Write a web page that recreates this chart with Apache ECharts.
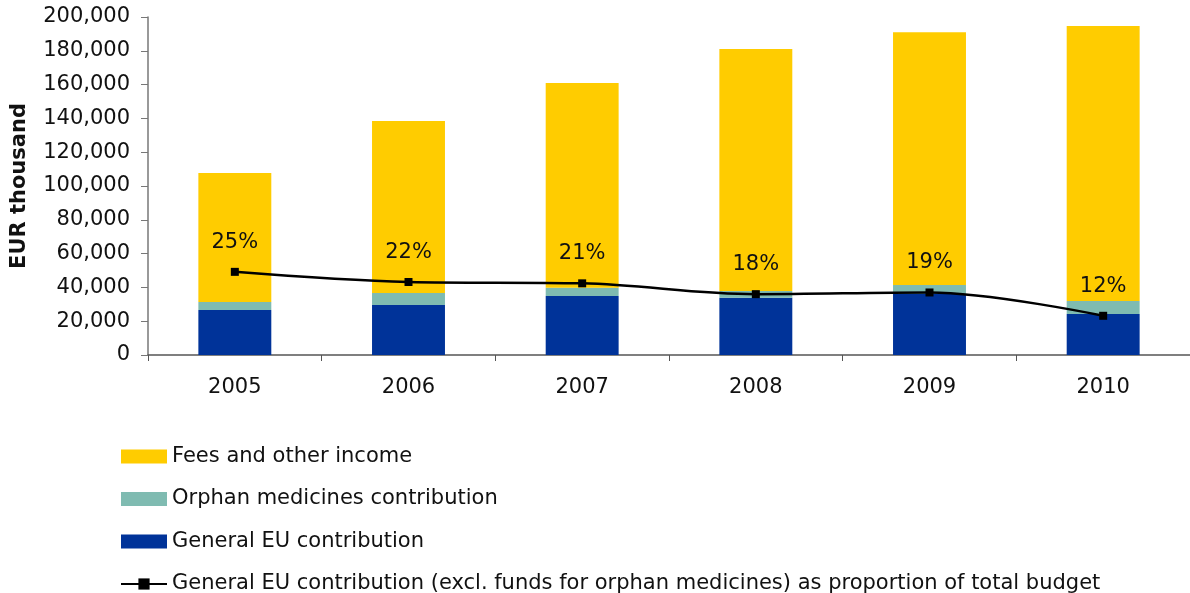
<!DOCTYPE html>
<html>
<head>
<meta charset="utf-8">
<script src="https://cdn.jsdelivr.net/npm/echarts@6/dist/echarts.min.js"></script>
<style>
html,body{margin:0;padding:0;background:#fff;}
#chart{width:1190px;height:593px;}
</style>
</head>
<body>
<div id="chart"></div>
<script>
const years = ['2005', '2006', '2007', '2008', '2009', '2010'];
const generalEU = [26600, 29600, 34900, 33900, 36100, 24300];
const orphan = [4800, 7100, 4900, 4000, 5300, 7700];
const fees = [76300, 101800, 121200, 143100, 149600, 162700];
const proportion = [0.246, 0.216, 0.212, 0.18, 0.185, 0.116];
const yTicks = { min: 0, max: 200000, interval: 20000 };

const FONT = 'DejaVu Sans';
const LINE_NAME = 'General EU contribution (excl. funds for orphan medicines) as proportion of total budget';
const chart = echarts.init(document.getElementById('chart'), null, { renderer: 'canvas' });
chart.setOption({
  animation: false,
  textStyle: { fontFamily: FONT },
  grid: { left: 148, top: 17, width: 1044, bottom: 238, containLabel: false },
  legend: {
    orient: 'vertical',
    left: 120,
    top: 446,
    height: 170,
    padding: 0,
    itemWidth: 46,
    itemHeight: 14,
    itemGap: 21.5,
    textStyle: { fontFamily: FONT, fontSize: 21, lineHeight: 21, color: '#111' },
    data: [
      { name: 'Fees and other income', icon: 'rect' },
      { name: 'Orphan medicines contribution', icon: 'rect' },
      { name: 'General EU contribution', icon: 'rect' },
      { name: LINE_NAME }
    ]
  },
  xAxis: {
    type: 'category',
    data: years,
    axisLine: { lineStyle: { color: '#555', width: 1.5 } },
    axisTick: { show: true, length: 6, lineStyle: { color: '#555' } },
    axisLabel: { fontFamily: FONT, fontSize: 21, color: '#111', margin: 22 },
    splitLine: { show: false }
  },
  yAxis: [{
    type: 'value',
    min: yTicks.min, max: yTicks.max, interval: yTicks.interval,
    name: 'EUR thousand',
    nameLocation: 'middle',
    nameRotate: 90,
    nameGap: 118,
    nameTextStyle: { fontFamily: FONT, fontSize: 21, fontWeight: 'bold', color: '#111' },
    axisLine: { show: true, lineStyle: { color: '#777', width: 1.5 } },
    axisTick: { show: true, length: 7, lineStyle: { color: '#777' } },
    axisLabel: {
      fontFamily: FONT, fontSize: 21, color: '#111', margin: 18,
      formatter: v => v.toLocaleString('en-US')
    },
    splitLine: { show: false }
  }, {
    type: 'value', min: 0, max: 1, show: false,
    axisLine: { show: false }, axisLabel: { show: false }, splitLine: { show: false }
  }],
  series: [
    {
      name: 'General EU contribution', type: 'bar', stack: 'budget',
      data: generalEU, barCategoryGap: '58%', itemStyle: { color: '#003399' }
    },
    {
      name: 'Orphan medicines contribution', type: 'bar', stack: 'budget',
      data: orphan, barCategoryGap: '58%', itemStyle: { color: '#7FBBB1' }
    },
    {
      name: 'Fees and other income', type: 'bar', stack: 'budget',
      data: fees, barCategoryGap: '58%', itemStyle: { color: '#FFCC00' }
    },
    {
      name: LINE_NAME,
      type: 'line', yAxisIndex: 1, data: proportion,
      smooth: 0.35,
      symbol: 'rect', symbolSize: 8,
      lineStyle: { color: '#000', width: 2.5 },
      itemStyle: { color: '#000' },
      label: {
        show: true, position: 'top', distance: 15,
        fontFamily: FONT, fontSize: 21, color: '#111',
        formatter: p => Math.round(p.value * 100) + '%'
      },
      z: 5
    }
  ]
});
</script>
</body>
</html>
